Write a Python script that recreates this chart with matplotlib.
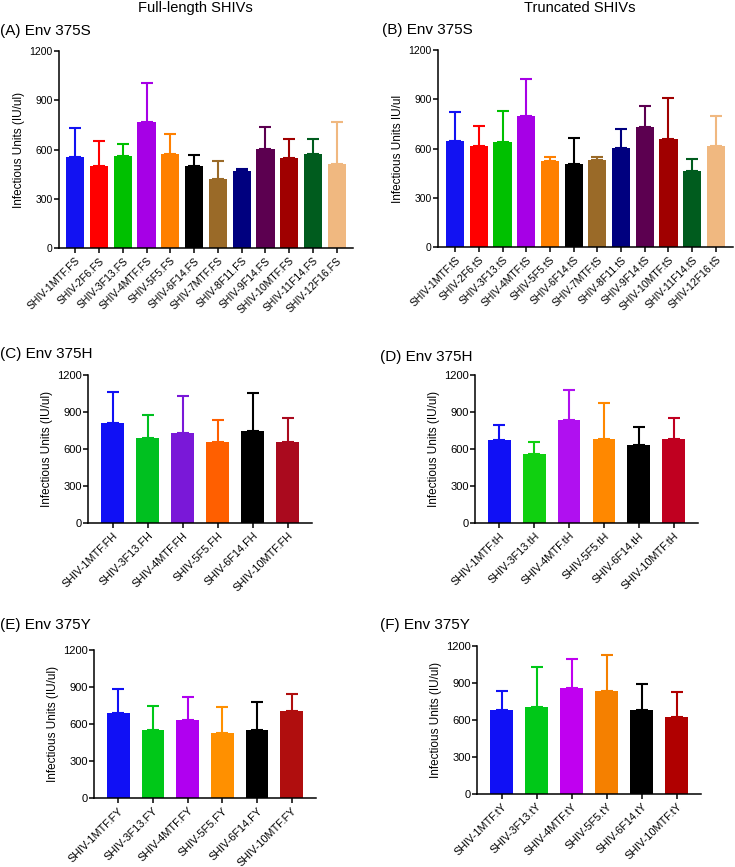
import numpy as np
import matplotlib
matplotlib.use("Agg")
import matplotlib.pyplot as plt

plt.rcParams['font.family'] = ['Liberation Sans', 'DejaVu Sans']

# ---- data ----
strains12 = ['1MTF', '2F6', '3F13', '4MTF', '5F5', '6F14', '7MTF', '8F11',
             '9F14', '10MTF', '11F14', '12F16']
strains6 = ['1MTF', '3F13', '4MTF', '5F5', '6F14', '10MTF']

a_mean = [557, 500, 560, 770, 574, 500, 418, 469, 605, 551, 574, 513]
a_sd = [173, 149, 75, 235, 119, 68, 110, 14, 134, 112, 87, 255]

b_mean = [645, 618, 637, 799, 525, 504, 530, 606, 732, 659, 464, 618]
b_sd = [179, 120, 191, 226, 25, 157, 16, 114, 126, 248, 71, 181]

c_mean = [809, 692, 728, 660, 749, 654]
c_sd = [253, 182, 298, 174, 304, 201]

d_mean = [676, 559, 834, 684, 635, 684]
d_sd = [122, 101, 241, 285, 147, 169]

e_mean = [692, 551, 632, 530, 549, 703]
e_sd = [194, 198, 187, 208, 227, 143]

f_mean = [679, 706, 861, 834, 679, 627]
f_sd = [160, 326, 236, 293, 212, 201]

cols_a = ['#1212f2', '#ff0000', '#00c000', '#a600e6', '#ff8000', '#000000',
          '#9a6a28', '#00007f', '#5c0050', '#a00000', '#005c1e', '#f0b880']
cols_b = cols_a
cols_c = ['#1010f5', '#00c020', '#7a18d8', '#ff5f00', '#000000', '#aa0a1e']
cols_d = ['#1010f5', '#10d010', '#b010f0', '#ff8800', '#000000', '#c00020']
cols_e = ['#1010f5', '#00c818', '#b000f0', '#ff9000', '#000000', '#b00e0e']
cols_f = ['#1010f5', '#00c818', '#c000f0', '#f58000', '#000000', '#b00000']

W, H = 735, 867
fig = plt.figure(figsize=(W / 100, H / 100), dpi=100)


def px_axes(left, top, right, bottom):
    return fig.add_axes([left / W, 1 - bottom / H, (right - left) / W, (bottom - top) / H])


def panel(ax, names, means, sds, colors, suffix, ylabel, width, pad, yfs, xfs):
    x = np.arange(len(names))
    ax.bar(x, means, width=width, color=colors, zorder=2)
    for xi, m, s, c in zip(x, means, sds, colors):
        ax.errorbar(xi, m, yerr=[[0], [s]], fmt='none', ecolor=c,
                    elinewidth=1.5, capsize=4, capthick=1.5, zorder=1)
    ax.set_ylim(0, 1200)
    ax.set_yticks([0, 300, 600, 900, 1200])
    ax.set_xlim(-pad, len(names) - 1 + pad)
    ax.set_xticks(x)
    ax.set_xticklabels(['SHIV-' + n + suffix for n in names], rotation=45,
                       ha='right', rotation_mode='anchor', fontsize=xfs)
    ax.tick_params(axis='y', labelsize=yfs, length=3.5, width=1.1, pad=1)
    ax.tick_params(axis='x', length=3.5, width=1.1, pad=2)
    for sp in ['top', 'right']:
        ax.spines[sp].set_visible(False)
    for sp in ['left', 'bottom']:
        ax.spines[sp].set_linewidth(1.1)
    ax.set_ylabel(ylabel, fontsize=8.5, labelpad=3)


axA = px_axes(59, 51, 353, 248)
panel(axA, strains12, a_mean, a_sd, cols_a, '.FS', 'Infectious Units (IU/ul)', 0.77, 0.68, 7.5, 7.5)
axB = px_axes(438, 50, 733, 247)
panel(axB, strains12, b_mean, b_sd, cols_b, '.tS', 'Infectious Units IU/ul', 0.77, 0.72, 7.5, 7.5)
axC = px_axes(88, 375, 312, 523)
panel(axC, strains6, c_mean, c_sd, cols_c, '.FH', 'Infectious Units (IU/ul)', 0.65, 0.7, 8, 7.8)
axD = px_axes(475, 375, 698, 523)
panel(axD, strains6, d_mean, d_sd, cols_d, '.tH', 'Infectious Units (IU/ul)', 0.65, 0.7, 8, 7.8)
axE = px_axes(94, 650, 316, 798)
panel(axE, strains6, e_mean, e_sd, cols_e, '.FY', 'Infectious Units (IU/ul)', 0.65, 0.7, 8, 7.8)
axF = px_axes(477, 646, 701, 794)
panel(axF, strains6, f_mean, f_sd, cols_f, '.tY', 'Infectious Units (IU/ul)', 0.65, 0.7, 8, 7.8)

fig.text(195 / W, 1 - 8 / H, 'Full-length SHIVs', ha='center', va='center', fontsize=10.5)
fig.text(580 / W, 1 - 8 / H, 'Truncated SHIVs', ha='center', va='center', fontsize=10.5)
fig.text(0 / W, 1 - 31 / H, '(A) Env 375S', ha='left', va='center', fontsize=11)
fig.text(382 / W, 1 - 30 / H, '(B) Env 375S', ha='left', va='center', fontsize=11)
fig.text(0 / W, 1 - 354 / H, '(C) Env 375H', ha='left', va='center', fontsize=11)
fig.text(380 / W, 1 - 357 / H, '(D) Env 375H', ha='left', va='center', fontsize=11)
fig.text(0 / W, 1 - 625 / H, '(E) Env 375Y', ha='left', va='center', fontsize=11)
fig.text(380 / W, 1 - 625 / H, '(F) Env 375Y', ha='left', va='center', fontsize=11)

fig.savefig('out.png', dpi=100)
